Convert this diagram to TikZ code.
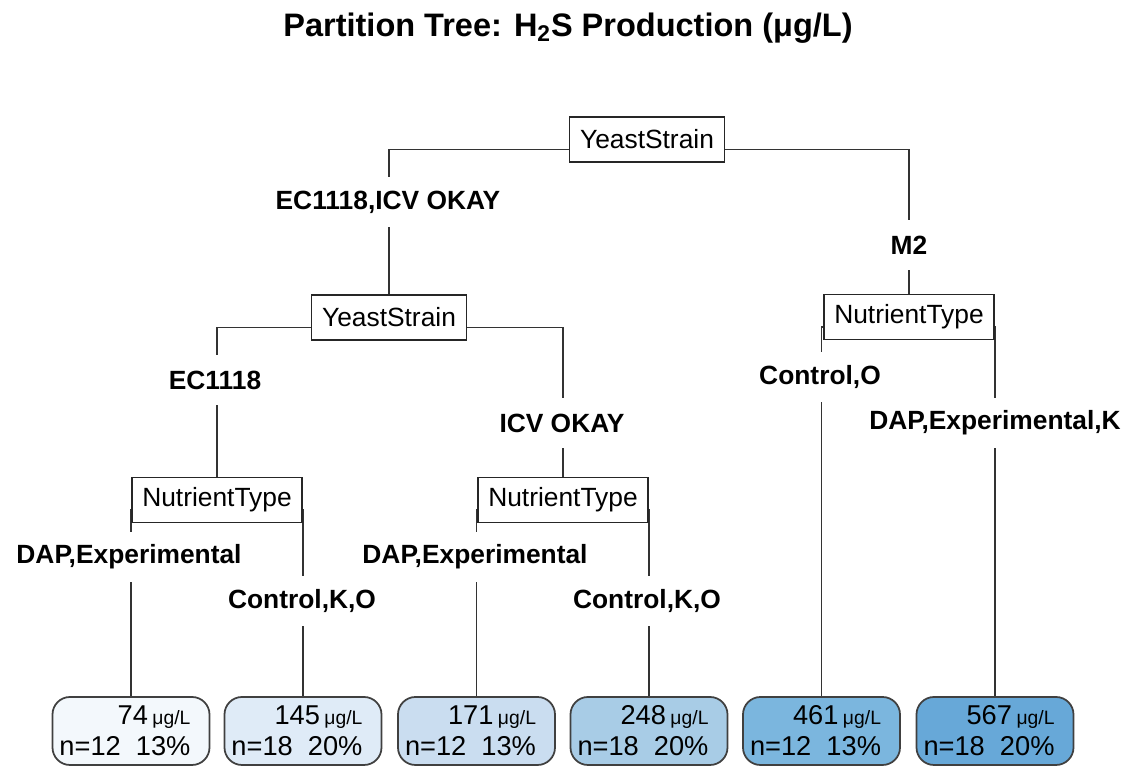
\documentclass[tikz,border=0pt]{standalone}
\usepackage{fontspec}
\setmainfont{Liberation Sans}
\usetikzlibrary{positioning, calc}
\pgfdeclarelayer{background}
\pgfsetlayers{background,main}

\definecolor{leafA}{HTML}{F3F8FC}
\definecolor{leafB}{HTML}{DFEBF7}
\definecolor{leafC}{HTML}{CADDF0}
\definecolor{leafD}{HTML}{A8CCE6}
\definecolor{leafE}{HTML}{7BB6DE}
\definecolor{leafF}{HTML}{67A8D8}

\newcommand{\leaftext}[3]{#1\,{\fontsize{11}{13}\selectfont μg/L}\hspace*{0.24cm}\\n=#2\ \ #3\%\hspace*{0.24cm}}

\begin{document}
\begin{tikzpicture}[
  font=\fontsize{15}{17}\selectfont,
  split/.style={draw=black!85, line width=1pt, fill=white, inner xsep=0.21cm, inner ysep=0pt, minimum height=0.9cm},
  leaf/.style={draw=black!75, line width=1pt, rounded corners=0.35cm, minimum width=3.04cm, minimum height=1.36cm, align=right, inner xsep=0.14cm, inner ysep=0pt, font=\fontsize{15.5}{17.5}\selectfont},
  cond/.style={font=\fontsize{15}{17}\selectfont\bfseries, fill=white, minimum height=1cm, inner xsep=1pt},
  branch/.style={draw=black!80, line width=1pt},
]
\useasboundingbox (0,0) rectangle (22.74,15.34);

% Title
\node[font=\fontsize{18.5}{22}\selectfont\bfseries] (title) at (11.36,14.78) {Partition Tree: H\textsubscript{2}S Production (μg/L)};

% Split nodes
\node[split] (root) at (12.94,12.55) {YeastStrain};
\node[split] (ys) at (7.78,8.99) {YeastStrain};
\node[split] (ntR) at (18.18,9.0) {NutrientType};
\node[split] (ntL) at (4.34,5.34) {NutrientType};
\node[split] (ntM) at (11.26,5.34) {NutrientType};

% Leaves
\node[leaf, fill=leafA] (l1) at (2.62,0.72) {\leaftext{74}{12}{13}};
\node[leaf, fill=leafB] (l2) at (6.06,0.72) {\leaftext{145}{18}{20}};
\node[leaf, fill=leafC] (l3) at (9.53,0.72) {\leaftext{171}{12}{13}};
\node[leaf, fill=leafD] (l4) at (12.98,0.72) {\leaftext{248}{18}{20}};
\node[leaf, fill=leafE] (l5) at (16.43,0.72) {\leaftext{461}{12}{13}};
\node[leaf, fill=leafF] (l6) at (19.9,0.72) {\leaftext{567}{18}{20}};

% Branches
\begin{pgfonlayer}{background}
\foreach \p/\c in {root/ys, root/ntR, ys/ntL, ys/ntM, ntL/l1, ntL/l2, ntM/l3, ntM/l4, ntR/l5, ntR/l6}
  \draw[branch] ([yshift=-0.2cm]\p.center) -| (\c.north);
\end{pgfonlayer}

% Split labels
\node[cond] (cRootL) at (7.76,11.3) {EC1118,ICV OKAY};
\node[cond] (cRootR) at (18.18,10.44) {M2};
\node[cond] (cYsL) at (4.3,7.74) {EC1118};
\node[cond] (cYsR) at (11.24,6.88) {ICV OKAY};
\node[cond] (cNtRL) at (16.4,7.8) {Control,O};
\node[cond] (cNtRR) at (19.9,6.88) {DAP,Experimental,K};
\node[cond] (cNtLL) at (2.58,4.2) {DAP,Experimental};
\node[cond] (cNtLR) at (6.04,3.32) {Control,K,O};
\node[cond] (cNtML) at (9.5,4.2) {DAP,Experimental};
\node[cond] (cNtMR) at (12.94,3.32) {Control,K,O};
\end{tikzpicture}
\end{document}
